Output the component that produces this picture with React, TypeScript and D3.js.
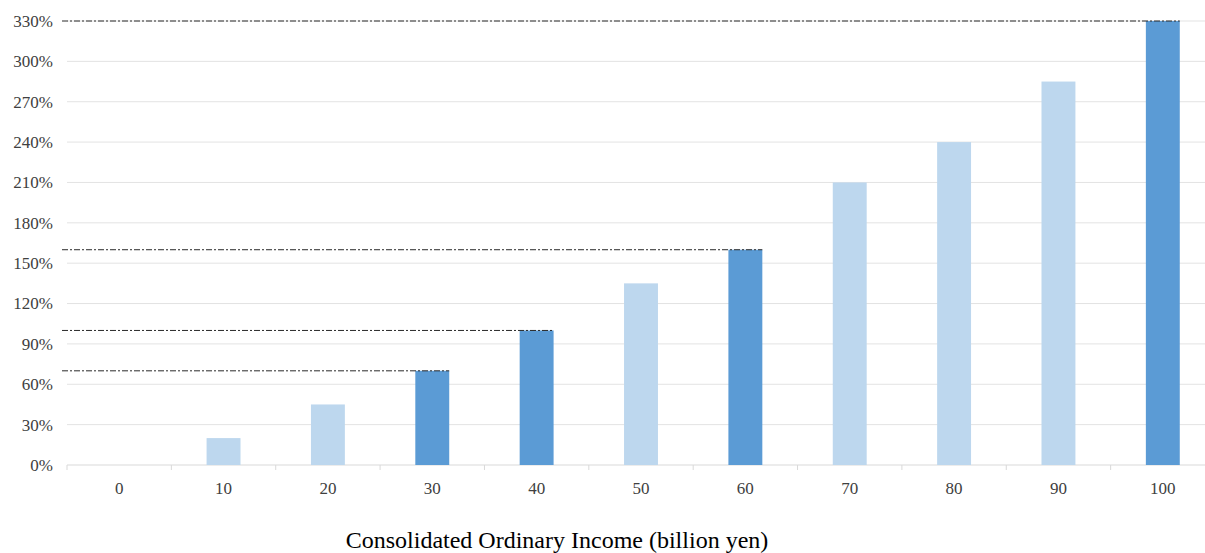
import React from "react";
import * as d3 from "d3";

const categories = ["0", "10", "20", "30", "40", "50", "60", "70", "80", "90", "100"];
const values = [0, 20, 45, 70, 100, 135, 160, 210, 240, 285, 330];
const highlighted = ["30", "40", "60", "100"];
const refLines = [
  { cat: "30", value: 70 },
  { cat: "40", value: 100 },
  { cat: "60", value: 160 },
  { cat: "100", value: 330 },
];
const yTicks = [0, 30, 60, 90, 120, 150, 180, 210, 240, 270, 300, 330];
const axisTitle = "Consolidated Ordinary Income (billion yen)";

export default function App() {
  const W = 1205, H = 553;
  const left = 67, right = 1215, top = 21, bottom = 465;
  const x = d3.scaleBand<string>().domain(categories).range([left, right]).paddingInner(0.675).paddingOuter(0.3375);
  const y = d3.scaleLinear().domain([0, 330]).range([bottom, top]);
  const step = x.step();
  const font = "'Liberation Serif', 'Times New Roman', serif";
  return (
    <svg width={W} height={H} style={{ position: "absolute", left: 0, top: 0, background: "#fff" }}>
      {yTicks.map((t) => (
        <g key={t}>
          {t > 0 && <line x1={left} x2={W} y1={y(t)} y2={y(t)} stroke="#e3e3e3" strokeWidth={1} />}
          <text x={53} y={y(t)} dy="0.35em" textAnchor="end" fontFamily={font} fontSize={17} fill="#404040">{t}%</text>
        </g>
      ))}
      <line x1={left} x2={W} y1={bottom} y2={bottom} stroke="#d9d9d9" strokeWidth={1} />
      {categories.map((c, i) => (
        <line key={"t" + c} x1={left + i * step} x2={left + i * step} y1={bottom} y2={bottom + 5} stroke="#d9d9d9" strokeWidth={1} />
      ))}
      {categories.map((c, i) => (
        values[i] > 0 ? (
          <rect key={c} x={x(c)} y={y(values[i])} width={x.bandwidth()} height={bottom - y(values[i])}
            fill={highlighted.includes(c) ? "#5b9bd5" : "#bdd7ee"} />
        ) : null
      ))}
      {refLines.map((r) => (
        <line key={"r" + r.cat} x1={62} x2={(x(r.cat) as number) + x.bandwidth()} y1={y(r.value)} y2={y(r.value)}
          stroke="#2a2a2a" strokeWidth={1} strokeDasharray="6,2,2,2" />
      ))}
      {categories.map((c) => (
        <text key={"l" + c} x={(x(c) as number) + x.bandwidth() / 2} y={494} textAnchor="middle" fontFamily={font} fontSize={17} fill="#404040">{c}</text>
      ))}
      <text x={557} y={548} textAnchor="middle" fontFamily={font} fontSize={24} fill="#000">{axisTitle}</text>
    </svg>
  );
}
